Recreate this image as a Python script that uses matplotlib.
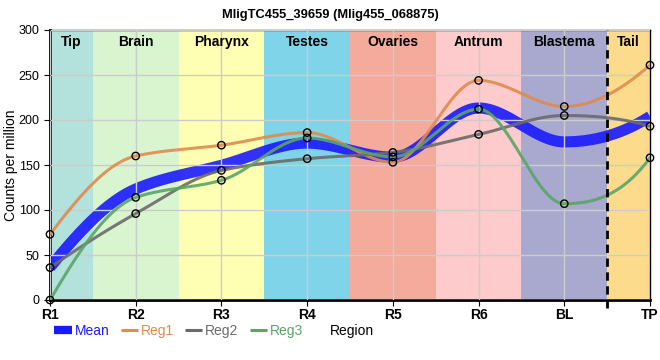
import numpy as np
import matplotlib
matplotlib.use("Agg")
import matplotlib.pyplot as plt
from matplotlib.lines import Line2D

plt.rcParams['font.family'] = ['Liberation Sans', 'DejaVu Sans']

### data
samples = ["R1", "R2", "R3", "R4", "R5", "R6", "BL", "TP"]
reg1 = [73, 160, 172, 186, 153, 244, 215, 261]
reg2 = [36, 96, 144, 157, 164, 184, 205, 193]
reg3 = [0, 114, 133, 180, 159, 212, 107, 158]
regions = ["Tip", "Brain", "Pharynx", "Testes", "Ovaries", "Antrum", "Blastema", "Tail"]
region_colors = ["#b3e2dd", "#d9f5d0", "#ffffb3", "#80d4ea", "#f5ab9c", "#fdcbcb", "#a9a8cf", "#fddb8c"]
title = "MligTC455_39659 (Mlig455_068875)"


def pchip(x, y, xs):
    """ monotone cubic interpolation, same idea as scipy's PchipInterpolator """
    x = np.asarray(x, float)
    y = np.asarray(y, float)
    h = np.diff(x)
    d = np.diff(y) / h
    n = len(x)
    m = np.zeros(n)
    for k in range(1, n - 1):
        if d[k - 1] * d[k] <= 0:
            m[k] = 0
        else:
            w1 = 2 * h[k] + h[k - 1]
            w2 = h[k] + 2 * h[k - 1]
            m[k] = (w1 + w2) / (w1 / d[k - 1] + w2 / d[k])

    def end(h0, h1, d0, d1):
        s = ((2 * h0 + h1) * d0 - h0 * d1) / (h0 + h1)
        if np.sign(s) != np.sign(d0):
            s = 0
        elif np.sign(d0) != np.sign(d1) and abs(s) > abs(3 * d0):
            s = 3 * d0
        return s

    m[0] = end(h[0], h[1], d[0], d[1])
    m[-1] = end(h[-1], h[-2], d[-1], d[-2])

    idx = np.clip(np.searchsorted(x, xs) - 1, 0, n - 2)
    t = (xs - x[idx]) / h[idx]
    h00 = 2 * t**3 - 3 * t**2 + 1
    h10 = t**3 - 2 * t**2 + t
    h01 = -2 * t**3 + 3 * t**2
    h11 = t**3 - t**2
    return h00 * y[idx] + h10 * h[idx] * m[idx] + h01 * y[idx + 1] + h11 * h[idx] * m[idx + 1]


xpos = np.arange(len(samples))
xs = np.linspace(0, len(samples) - 1, 600)
mean = np.mean([reg1, reg2, reg3], axis=0)

fig = plt.figure(figsize=(6.6, 3.6), dpi=100)
ax = fig.add_axes([50 / 660, 60 / 360, 600 / 660, 270 / 360])

### coloured background bands, one per region
bounds = [0, 0.5, 1.5, 2.5, 3.5, 4.5, 5.5, 6.5, 7]
for ii, name in enumerate(regions):
    ax.axvspan(bounds[ii], bounds[ii + 1], color=region_colors[ii], lw=0, zorder=0)
    ax.text((bounds[ii] + bounds[ii + 1]) / 2, 294, name, ha="center", va="top",
            fontsize=10, fontweight="bold", zorder=5)

ax.axvline(6.5, color="black", ls=(0, (3, 2)), lw=2, zorder=4, ymin=-0.03, clip_on=False)

ax.grid(True, color="#cccccc", lw=1, zorder=1)
ax.set_axisbelow(False)
for gl in ax.get_xgridlines() + ax.get_ygridlines():
    gl.set_zorder(1)

colors = {"Mean": "#1a1aff", "Reg1": "#e08b4f", "Reg2": "#6b6b6b", "Reg3": "#5aa568"}

ax.plot(xs, pchip(xpos, mean, xs), color=colors["Mean"], lw=8, alpha=0.9, zorder=2,
        solid_capstyle="butt")
for name, vals in [("Reg1", reg1), ("Reg2", reg2), ("Reg3", reg3)]:
    ax.plot(xs, pchip(xpos, vals, xs), color=colors[name], lw=2.2, alpha=0.9, zorder=3)
    ax.scatter(xpos, vals, s=28, facecolors="none", edgecolors="black", lw=1, zorder=6,
               clip_on=False)

ax.set_xlim(0, 7)
ax.set_ylim(0, 300)
ax.set_xticks(xpos)
ax.set_xticklabels(samples, fontweight="bold", fontsize=10)
ax.set_yticks(range(0, 301, 50))
ax.tick_params(axis="y", labelsize=9, length=4)
ax.tick_params(axis="x", length=4, pad=2)
ax.set_ylabel("Counts per million", fontsize=10)
ax.yaxis.set_label_coords(-0.053, 0.5)
for sp in ["left", "bottom"]:
    ax.spines[sp].set_linewidth(2)
for sp in ["top", "right"]:
    ax.spines[sp].set_linewidth(1)

fig.text(0.5, 0.975, title, ha="center", va="top", fontsize=9.3, fontweight="bold")

handles = [Line2D([0], [0], color=colors["Mean"], lw=6, solid_capstyle="butt"),
           Line2D([0], [0], color=colors["Reg1"], lw=2.2, solid_capstyle="butt"),
           Line2D([0], [0], color=colors["Reg2"], lw=2.2, solid_capstyle="butt"),
           Line2D([0], [0], color=colors["Reg3"], lw=2.2, solid_capstyle="butt")]
fig.legend(handles, ["Mean", "Reg1", "Reg2", "Reg3"], loc="center left",
           bbox_to_anchor=(42 / 660, 1 - 331 / 360), ncol=4, frameon=False,
           handlelength=1.25, handletextpad=0.2, columnspacing=0.8,
           labelcolor="linecolor", prop={"size": 10})
fig.text(330 / 660, 1 - 331 / 360, "Region", ha="left", va="center", fontsize=10)

plt.savefig("out.png", dpi=100)
